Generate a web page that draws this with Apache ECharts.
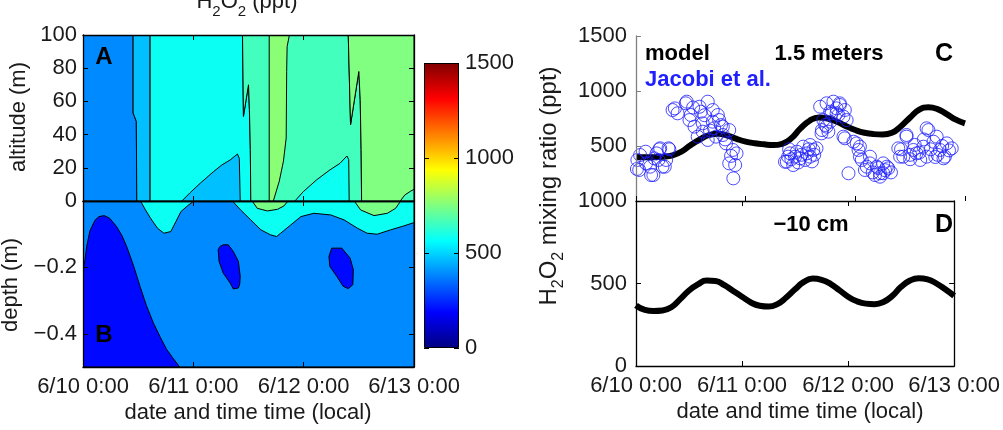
<!DOCTYPE html>
<html><head><meta charset="utf-8">
<script src="https://cdn.jsdelivr.net/npm/echarts@6/dist/echarts.min.js"></script>
<style>html,body{margin:0;padding:0;background:#fff}#c{width:1003px;height:430px}</style>
</head><body><div id="c"></div>
<script>
// ---------------- data ----------------
// time axis: hours since 6/10 0:00 (local)
const timeTicks = [0, 24, 48, 72];
const dateLabels = ['6/10 0:00', '6/11 0:00', '6/12 0:00', '6/13 0:00'];
const colorbarTicks = [0, 500, 1000, 1500];
const depthTicks = [0, -0.2, -0.4];

// Panel A: contour regions above ground [hour, altitude m], with H2O2 level (ppt)
const airLevels = [390, 470, 580, 470, 660, 765, 580, 750, 660];
const airRegions = [
  [[0,0],[0,100],[10.9,100],[10.9,53],[11.6,48],[11.7,0]],
  [[10.9,100],[14.6,100],[14.6,0],[11.7,0],[11.6,48],[10.9,53]],
  [[14.6,100],[34.7,100],[34.9,51],[36.0,70],[36.2,55],[36.4,31],[36.5,0],[14.6,0]],
  [[21.5,0],[23.3,5],[25.5,10.7],[28.4,17.7],[30.2,21.7],[32.0,24.7],[33.6,28.3],[34.0,25.7],[34.2,0]],
  [[34.7,100],[57.7,100],[58.2,46],[60.0,78],[60.3,61],[60.5,31],[60.6,0],[36.5,0],[36.4,31],[36.2,55],[36.0,70],[34.9,51]],
  [[40.5,100],[44.9,100],[44.4,93],[44.3,78],[44.2,38],[43.6,24],[42.7,12],[41.4,0],[40.5,0]],
  [[46.1,0],[47.9,5.6],[50.8,12.7],[53.7,18.7],[55.9,22.7],[57.4,27.1],[57.8,25],[57.9,0]],
  [[57.7,100],[72,100],[72,0],[60.6,0],[60.5,31],[60.3,61],[60.0,78],[58.2,46]],
  [[69.0,0],[70.0,3.6],[71.3,6],[72,7],[72,0]]
];

// Panel B: contour regions below ground [hour, depth m]
const soilLevels = [390, 200, 200, 200, 580, 580, 740, 740];
const soilRegions = [
  [[0,0],[72,0],[72,-0.5],[0,-0.5]],
  [[0,-0.5],[0,-0.21],[0.4,-0.18],[0.8,-0.137],[1.5,-0.09],[2.6,-0.058],[3.5,-0.047],[4.6,-0.044],[5.8,-0.052],[7.3,-0.077],[8.5,-0.105],[9.5,-0.137],[11,-0.195],[12.4,-0.257],[13.8,-0.315],[15.3,-0.367],[16.8,-0.41],[18.2,-0.447],[19.5,-0.472],[20.7,-0.494],[21,-0.5]],
  [[29.4,-0.147],[29.8,-0.137],[30.5,-0.132],[31.6,-0.132],[32.7,-0.152],[33.8,-0.182],[34.2,-0.227],[34.1,-0.25],[33.8,-0.262],[32.7,-0.265],[32.0,-0.247],[30.5,-0.217],[29.6,-0.182]],
  [[53.5,-0.167],[54.1,-0.142],[56.3,-0.142],[58.1,-0.172],[58.8,-0.207],[58.7,-0.252],[57.7,-0.264],[56.6,-0.257],[55.2,-0.227],[53.7,-0.197]],
  [[12.5,0],[13.6,-0.027],[14.7,-0.052],[16.2,-0.082],[17.6,-0.097],[19.1,-0.092],[20.2,-0.062],[21.3,-0.032],[22.7,-0.015],[24.1,0]],
  [[32.5,0],[34.3,-0.027],[36.5,-0.057],[38.7,-0.087],[40.8,-0.102],[42.1,-0.107],[43.0,-0.097],[45.2,-0.072],[47.4,-0.047],[50.2,-0.037],[53.9,-0.042],[56.8,-0.057],[59.7,-0.082],[61.8,-0.097],[64.0,-0.1],[66.9,-0.087],[69.8,-0.075],[72,-0.065],[72,0]],
  [[36.8,0],[37.9,-0.022],[40.1,-0.03],[42.3,-0.025],[43.7,-0.015],[44.6,0]],
  [[59.0,0],[60.4,-0.027],[63.3,-0.044],[66.2,-0.037],[68.0,-0.022],[69.1,0]]
];

// Panel C: Jacobi et al. observations [hour, ppt]
const jacobiObs = [
  [0.2,291],[0.7,282],[0.9,418],[0.3,373],[2.1,448],[2.2,342],[3.1,312],[3.3,236],[3.8,236],[4.0,388],[4.5,433],[4.9,373],[5.1,470],[5.3,479],[5.8,312],[6.3,312],[6.6,373],[7.1,479],[7.3,470],
  [8.0,827],[8.5,842],[9.1,797],[10.9,888],[11.1,903],[11.7,736],[12.0,782],[12.5,850],[12.8,676],[13.5,585],[13.9,857],[14.2,812],[14.6,706],[14.6,630],[15.0,780],[15.7,903],[15.7,555],[16.2,640],[16.8,827],[16.8,721],[17.1,661],[17.5,585],[17.9,782],[18.2,736],[18.6,690],[19.0,676],[19.0,600],[19.5,560],[19.7,524],[20.4,645],[20.4,342],[20.8,410],[21.2,464],[21.3,206],[21.7,327],[22.0,433],
  [32.6,357],[33.0,357],[33.3,403],[33.5,470],[33.7,433],[34.0,380],[34.4,327],[34.8,403],[35.2,448],[35.5,350],[35.9,388],[36.2,420],[36.6,494],[37.0,373],[37.4,433],[37.8,470],[38.1,509],[38.1,403],[38.5,360],[38.8,464],[39.0,420],[39.5,479],
  [40.3,857],[40.6,615],[40.7,645],[41.0,736],[41.4,691],[41.7,888],[41.7,676],[42.1,630],[42.5,812],[42.5,721],[42.8,797],[43.2,903],[43.9,842],[43.9,797],[44.3,782],[44.6,873],[44.6,888],[45.4,767],[45.7,827],[46.1,736],
  [45.4,585],[45.7,570],[46.5,252],[47.6,539],[48.3,524],[48.7,464],[49.0,403],[49.0,494],[49.4,373],[50.1,282],[50.5,312],[51.2,403],[51.2,342],[51.8,260],[52.3,236],[52.7,312],[53.0,300],[53.4,252],[53.4,221],[54.1,342],[54.1,252],[54.5,280],[54.9,312],[55.2,297],[55.8,260],
  [57.4,479],[57.8,403],[58.0,470],[58.5,403],[59.2,585],[59.2,600],[60.0,420],[60.0,380],[60.7,464],[61.0,510],[61.4,433],[62.0,440],[62.2,373],[62.9,494],[63.0,560],[63.6,403],[63.6,661],[64.0,645],[64.5,470],[65.1,539],[65.5,400],[65.8,585],[66.0,420],[66.5,464],[67.0,500],[67.3,388],[67.6,403],[68.0,524],[68.5,460],[69.1,479]
];

// model output every 2 hours
const modelHours = [0,2,4,6,8,10,12,14,16,18,20,22,24,26,28,30,32,34,36,38,40,42,44,46,48,50,52,54,56,58,60,62,64,66,68,70,72];
const model150cm = [400,398,398,402,415,450,510,560,600,612,595,565,540,525,515,508,520,570,660,730,760,750,720,680,645,620,608,605,620,680,760,830,852,835,790,740,706];
const model10cm = [368,340,333,336,356,405,458,495,518,515,490,455,420,385,365,360,375,415,465,510,530,522,498,460,420,392,378,375,388,425,480,518,532,525,500,465,425];

// ---------------- chart ----------------
const FONT = 'Liberation Sans, Arial, Helvetica, sans-serif';
const TXT = '#1a1a1a';
const FS = 22;

function jet(t) {
  const c = x => Math.max(0, Math.min(1, x));
  const r = c(1.5 - Math.abs(4 * t - 3)), g = c(1.5 - Math.abs(4 * t - 2)), b = c(1.5 - Math.abs(4 * t - 1));
  return 'rgb(' + Math.round(r * 255) + ',' + Math.round(g * 255) + ',' + Math.round(b * 255) + ')';
}
const pair = (xs, ys) => xs.map((x, i) => [x, ys[i]]);
const plain = v => String(v).replace('-', '\u2212');

function polySeries(xi, yi, regions, levels) {
  return {
    type: 'custom', xAxisIndex: xi, yAxisIndex: yi, silent: true, clip: true, z: 2,
    data: regions.map((r, i) => r[0]),
    renderItem: (params, api) => {
      const i = params.dataIndex;
      return {
        type: 'polygon',
        shape: { points: regions[i].map(p => api.coord(p)) },
        style: { fill: jet(levels[i] / 1500), stroke: '#000', lineWidth: 1 }
      };
    }
  };
}

const axLine = c => ({ show: true, onZero: false, lineStyle: { color: c || '#000', width: 1.3 } });
const tick = c => ({ show: true, inside: true, length: 5, lineStyle: { color: c || '#000', width: 1 } });
const noLabel = { show: false };
const lab = extra => Object.assign({ color: TXT, fontSize: FS, fontFamily: FONT, formatter: plain }, extra);
const timeAxis = (g, pos, labels, extra) => Object.assign({
  gridIndex: g, type: 'value', min: 0, max: 72, interval: 24, position: pos, z: 10,
  axisLine: axLine(), axisTick: tick(), splitLine: { show: false },
  axisLabel: labels ? lab({ margin: 9, formatter: v => dateLabels[timeTicks.indexOf(v)] }) : noLabel
}, extra || {});

const option = {
  animation: false,
  backgroundColor: '#fff',
  textStyle: { fontFamily: FONT },
  grid: [
    { left: 83, top: 35, width: 331, height: 166 },   // A
    { left: 83, top: 201, width: 331, height: 166 },  // B
    { left: 424, top: 63, width: 35, height: 285 },   // colorbar
    { left: 636, top: 36, width: 329, height: 165 },  // C
    { left: 636, top: 201, width: 329, height: 165 }  // D
  ],
  xAxis: [
    timeAxis(0, 'bottom', false),
    timeAxis(0, 'top', false),
    timeAxis(1, 'bottom', true),
    timeAxis(1, 'top', false),
    { gridIndex: 2, type: 'category', data: ['H2O2'], show: false },
    timeAxis(3, 'bottom', false, { axisLine: { show: false } }),
    timeAxis(4, 'bottom', true),
    timeAxis(4, 'top', false)
  ],
  yAxis: [
    { gridIndex: 0, type: 'value', min: 0, max: 100, interval: 20, position: 'left', z: 10,
      axisLine: axLine(), axisTick: tick(), splitLine: { show: false },
      axisLabel: lab({ margin: 6, showMinLabel: false }) },
    { gridIndex: 0, type: 'value', min: 0, max: 100, interval: 20, position: 'right', z: 10,
      axisLine: axLine(), axisTick: tick(), splitLine: { show: false }, axisLabel: noLabel },
    { gridIndex: 1, type: 'value', min: -0.5, max: 0, position: 'left', z: 10,
      axisLine: axLine(), axisTick: Object.assign(tick(), { customValues: depthTicks }), splitLine: { show: false },
      axisLabel: lab({ margin: 6, customValues: depthTicks }) },
    { gridIndex: 1, type: 'value', min: -0.5, max: 0, position: 'right', z: 10,
      axisLine: axLine(), axisTick: Object.assign(tick(), { customValues: depthTicks }), splitLine: { show: false }, axisLabel: noLabel },
    { gridIndex: 2, type: 'value', min: 0, max: 1500, interval: 500, position: 'left', z: 10,
      axisLine: { show: false }, axisTick: tick(), splitLine: { show: false }, axisLabel: noLabel },
    { gridIndex: 2, type: 'value', min: 0, max: 1500, interval: 500, position: 'right', z: 10,
      axisLine: { show: false }, axisTick: tick(), splitLine: { show: false },
      axisLabel: lab({ margin: 6 }) },
    { gridIndex: 3, type: 'value', min: 0, max: 1500, interval: 500, position: 'left', z: 10,
      axisLine: axLine('#808080'), axisTick: tick('#808080'), splitLine: { show: false },
      axisLabel: lab({ margin: 9, showMinLabel: false }) },
    { gridIndex: 4, type: 'value', min: 0, max: 1000, interval: 500, position: 'left', z: 10,
      axisLine: axLine(), axisTick: tick(), splitLine: { show: false },
      axisLabel: lab({ margin: 9 }) },
    { gridIndex: 4, type: 'value', min: 0, max: 1000, interval: 500, position: 'right', z: 10,
      axisLine: axLine(), axisTick: tick(), splitLine: { show: false }, axisLabel: noLabel }
  ],
  series: [
    polySeries(0, 0, airRegions, airLevels),
    polySeries(2, 2, soilRegions, soilLevels),
    { type: 'bar', xAxisIndex: 4, yAxisIndex: 4, data: [1500], barWidth: '100%', silent: true,
      itemStyle: { borderColor: '#000', borderWidth: 1,
        color: new echarts.graphic.LinearGradient(0, 1, 0, 0, [0, 0.125, 0.375, 0.625, 0.875, 1].map(t => ({ offset: t, color: jet(t) }))) } },
    { type: 'line', xAxisIndex: 5, yAxisIndex: 6, data: pair(modelHours, model150cm), smooth: true, showSymbol: false,
      lineStyle: { color: '#000', width: 6 }, z: 3, silent: true },
    { type: 'scatter', xAxisIndex: 5, yAxisIndex: 6, data: jacobiObs, symbol: 'circle', symbolSize: 13, z: 4, silent: true,
      itemStyle: { color: 'rgba(0,0,0,0)', borderColor: '#1f1fff', borderWidth: 1 } },
    { type: 'line', xAxisIndex: 6, yAxisIndex: 7, data: pair(modelHours, model10cm), smooth: true, showSymbol: false,
      lineStyle: { color: '#000', width: 6 }, z: 3, silent: true }
  ],
  graphic: [
    { type: 'text', x: 247, y: -9, z: 100, style: { text: '{n|H}{s|2}{n|O}{s|2}{n| (ppt)}', align: 'center', verticalAlign: 'top',
      rich: { n: { fontSize: FS, lineHeight: 22, fontFamily: FONT, fill: TXT, verticalAlign: 'top' },
              s: { fontSize: 15, lineHeight: 15, fontFamily: FONT, fill: TXT, verticalAlign: 'top', padding: [13, 0, 0, 0] } } } },
    { type: 'text', x: 19, y: 117, rotation: Math.PI / 2, z: 100, style: { text: 'altitude (m)', font: FS + 'px ' + FONT, fill: TXT, align: 'center', verticalAlign: 'middle' } },
    { type: 'text', x: 11, y: 285, rotation: Math.PI / 2, z: 100, style: { text: 'depth (m)', font: FS + 'px ' + FONT, fill: TXT, align: 'center', verticalAlign: 'middle' } },
    { type: 'text', x: 104, y: 57, z: 100, style: { text: 'A', font: 'bold 24px ' + FONT, fill: '#000', align: 'center', verticalAlign: 'middle' } },
    { type: 'text', x: 104, y: 335, z: 100, style: { text: 'B', font: 'bold 24px ' + FONT, fill: '#000', align: 'center', verticalAlign: 'middle' } },
    { type: 'text', x: 248, y: 413, z: 100, style: { text: 'date and time time (local)', font: FS + 'px ' + FONT, fill: TXT, align: 'center', verticalAlign: 'middle' } },
    { type: 'text', x: 800, y: 412, z: 100, style: { text: 'date and time time (local)', font: FS + 'px ' + FONT, fill: TXT, align: 'center', verticalAlign: 'middle' } },
    { type: 'text', x: 537, y: 186, rotation: Math.PI / 2, z: 100, style: { text: '{n|H}{s|2}{n|O}{s|2}{n| mixing ratio (ppt)}', align: 'center', verticalAlign: 'top',
      rich: { n: { fontSize: 24, lineHeight: 24, fontFamily: FONT, fill: TXT, verticalAlign: 'top' },
              s: { fontSize: 16, lineHeight: 16, fontFamily: FONT, fill: TXT, verticalAlign: 'top', padding: [14, 0, 0, 0] } } } },
    { type: 'text', x: 645, y: 54, z: 100, style: { text: 'model', font: 'bold ' + FS + 'px ' + FONT, fill: '#000', align: 'left', verticalAlign: 'middle' } },
    { type: 'text', x: 829, y: 54, z: 100, style: { text: '1.5 meters', font: 'bold ' + FS + 'px ' + FONT, fill: '#000', align: 'center', verticalAlign: 'middle' } },
    { type: 'text', x: 944, y: 54, z: 100, style: { text: 'C', font: 'bold 25px ' + FONT, fill: '#000', align: 'center', verticalAlign: 'middle' } },
    { type: 'text', x: 645, y: 80, z: 100, style: { text: 'Jacobi et al.', font: 'bold ' + FS + 'px ' + FONT, fill: '#1f1fff', align: 'left', verticalAlign: 'middle' } },
    { type: 'text', x: 811, y: 225, z: 100, style: { text: '\u221210 cm', font: 'bold ' + FS + 'px ' + FONT, fill: '#000', align: 'center', verticalAlign: 'middle' } },
    { type: 'text', x: 944, y: 225, z: 100, style: { text: 'D', font: 'bold 25px ' + FONT, fill: '#000', align: 'center', verticalAlign: 'middle' } }
  ]
};

const chart = echarts.init(document.getElementById('c'), null, { renderer: 'canvas' });
chart.setOption(option);
</script>
</body></html>
